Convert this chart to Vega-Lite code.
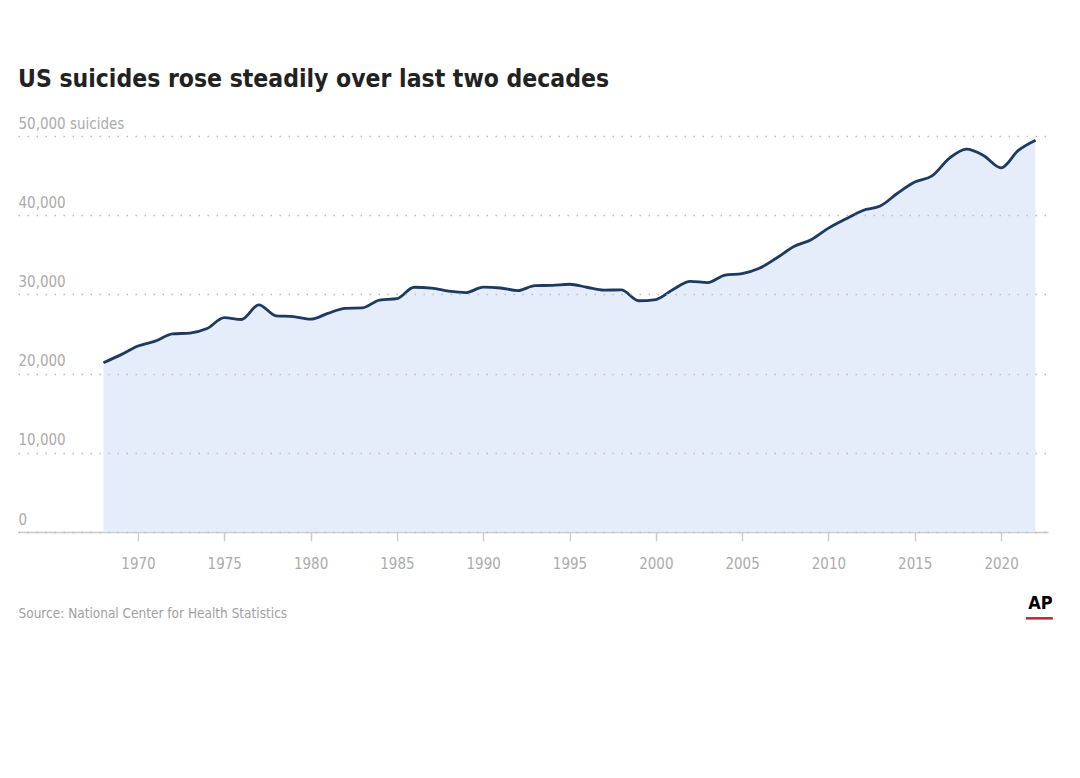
{
  "$schema": "https://vega.github.io/schema/vega-lite/v6.json",
  "width": 1030,
  "height": 396,
  "autosize": {"type": "none"},
  "padding": {"left": 18, "top": 136, "right": 32, "bottom": 246},
  "background": "white",
  "config": {"view": {"stroke": null}},
  "title": {
    "text": "US suicides rose steadily over last two decades",
    "anchor": "start",
    "font": "DejaVu Sans Condensed, sans-serif",
    "fontSize": 24.5,
    "fontWeight": "bold",
    "color": "#222222",
    "offset": 24
  },
  "datasets": {
    "suicides": [
      {"year": 1968, "suicides": 21372}, {"year": 1969, "suicides": 22364}, {"year": 1970, "suicides": 23480},
      {"year": 1971, "suicides": 24092}, {"year": 1972, "suicides": 25004}, {"year": 1973, "suicides": 25118},
      {"year": 1974, "suicides": 25683}, {"year": 1975, "suicides": 27063}, {"year": 1976, "suicides": 26832},
      {"year": 1977, "suicides": 28681}, {"year": 1978, "suicides": 27294}, {"year": 1979, "suicides": 27206},
      {"year": 1980, "suicides": 26869}, {"year": 1981, "suicides": 27596}, {"year": 1982, "suicides": 28242},
      {"year": 1983, "suicides": 28295}, {"year": 1984, "suicides": 29286}, {"year": 1985, "suicides": 29453},
      {"year": 1986, "suicides": 30904}, {"year": 1987, "suicides": 30796}, {"year": 1988, "suicides": 30407},
      {"year": 1989, "suicides": 30232}, {"year": 1990, "suicides": 30906}, {"year": 1991, "suicides": 30810},
      {"year": 1992, "suicides": 30484}, {"year": 1993, "suicides": 31102}, {"year": 1994, "suicides": 31142},
      {"year": 1995, "suicides": 31284}, {"year": 1996, "suicides": 30903}, {"year": 1997, "suicides": 30535},
      {"year": 1998, "suicides": 30575}, {"year": 1999, "suicides": 29199}, {"year": 2000, "suicides": 29350},
      {"year": 2001, "suicides": 30622}, {"year": 2002, "suicides": 31655}, {"year": 2003, "suicides": 31484},
      {"year": 2004, "suicides": 32439}, {"year": 2005, "suicides": 32637}, {"year": 2006, "suicides": 33300},
      {"year": 2007, "suicides": 34598}, {"year": 2008, "suicides": 36035}, {"year": 2009, "suicides": 36909},
      {"year": 2010, "suicides": 38364}, {"year": 2011, "suicides": 39518}, {"year": 2012, "suicides": 40600},
      {"year": 2013, "suicides": 41149}, {"year": 2014, "suicides": 42773}, {"year": 2015, "suicides": 44193},
      {"year": 2016, "suicides": 44965}, {"year": 2017, "suicides": 47173}, {"year": 2018, "suicides": 48344},
      {"year": 2019, "suicides": 47511}, {"year": 2020, "suicides": 45979}, {"year": 2021, "suicides": 48183},
      {"year": 2022, "suicides": 49476}
    ],
    "logo": [
      {"label": "AP", "year": 2022.28, "y": -9700, "x1": 2021.44, "x2": 2023.0, "yline": -10900}
    ]
  },
  "layer": [
    {
      "data": {"name": "suicides"},
      "mark": {"type": "area", "color": "#e6edfa", "interpolate": "monotone"},
      "encoding": {
        "x": {
          "field": "year",
          "type": "quantitative",
          "scale": {"domain": [1963.05, 2022.72], "nice": false, "zero": false},
          "axis": {
            "values": [1970, 1975, 1980, 1985, 1990, 1995, 2000, 2005, 2010, 2015, 2020],
            "format": "d",
            "grid": false,
            "domainColor": "#cccccc",
            "domainWidth": 1.5,
            "tickColor": "#cccccc",
            "tickSize": 9,
            "tickWidth": 1.5,
            "labelFont": "DejaVu Sans Condensed, sans-serif",
            "labelFontSize": 15,
            "labelColor": "#ababab",
            "labelPadding": 15,
            "title": "Source: National Center for Health Statistics",
            "titleFont": "DejaVu Sans Condensed, sans-serif",
            "titleFontSize": 13.5,
            "titleFontWeight": "normal",
            "titleColor": "#a0a0a0",
            "titleAnchor": "start",
            "titleAlign": "left",
            "titleBaseline": "alphabetic",
            "titleX": 0,
            "titleY": 85
          }
        },
        "y": {
          "field": "suicides",
          "type": "quantitative",
          "scale": {"domain": [0, 50000], "nice": false},
          "axis": {
            "values": [0, 10000, 20000, 30000, 40000, 50000],
            "labelExpr": "datum.value == 50000 ? '50,000 suicides' : format(datum.value, ',')",
            "domain": false,
            "ticks": false,
            "tickSize": 0,
            "labelAlign": "left",
            "labelBaseline": "alphabetic",
            "labelOffset": -8,
            "labelPadding": 0,
            "labelBound": false,
            "labelFont": "DejaVu Sans Condensed, sans-serif",
            "labelFontSize": 15,
            "labelColor": "#ababab",
            "grid": true,
            "gridColor": "#bdbdbd",
            "gridDash": [1.5, 7.5],
            "gridWidth": 1.5,
            "zindex": 1,
            "title": null
          }
        }
      }
    },
    {
      "data": {"name": "suicides"},
      "mark": {"type": "line", "color": "#1d3a63", "strokeWidth": 2.8, "interpolate": "monotone"},
      "encoding": {
        "x": {"field": "year", "type": "quantitative"},
        "y": {"field": "suicides", "type": "quantitative"}
      }
    },
    {
      "data": {"name": "logo"},
      "mark": {"type": "text", "font": "DejaVu Sans Condensed, sans-serif", "fontWeight": "bold", "fontSize": 18, "color": "#000000", "align": "center", "baseline": "alphabetic"},
      "encoding": {
        "x": {"field": "year", "type": "quantitative"},
        "y": {"field": "y", "type": "quantitative"},
        "text": {"field": "label"}
      }
    },
    {
      "data": {"name": "logo"},
      "mark": {"type": "rule", "color": "#b02a3a", "strokeWidth": 2.5},
      "encoding": {
        "x": {"field": "x1", "type": "quantitative"},
        "x2": {"field": "x2"},
        "y": {"field": "yline", "type": "quantitative"}
      }
    }
  ]
}
